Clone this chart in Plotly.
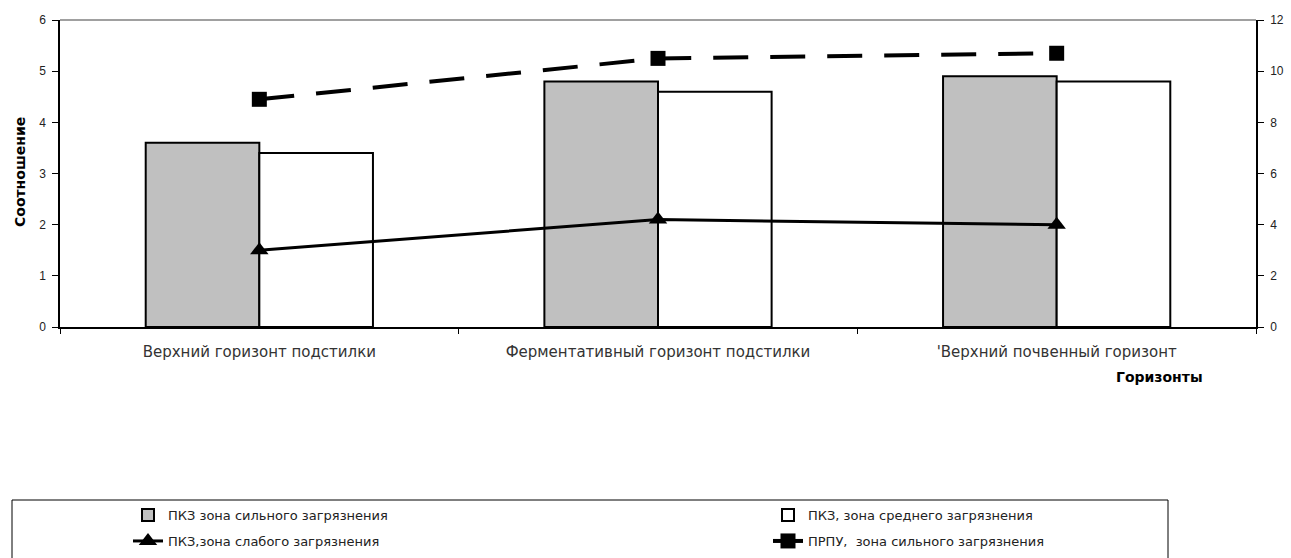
import plotly.graph_objects as go

# Горизонты (categories)
horizons = [
    "Верхний горизонт подстилки",
    "Ферментативный горизонт подстилки",
    "'Верхний почвенный горизонт",
]

# Series values
pkz_strong = [3.6, 4.8, 4.9]      # ПКЗ зона сильного загрязнения
pkz_medium = [3.4, 4.6, 4.8]      # ПКЗ, зона среднего загрязнения
pkz_weak = [1.5, 2.1, 2.0]        # ПКЗ,зона слабого загрязнения
prpu_strong = [8.9, 10.5, 10.7]   # ПРПУ,  зона сильного загрязнения (right axis)

left_ticks = [0, 1, 2, 3, 4, 5, 6]
right_ticks = [0, 2, 4, 6, 8, 10, 12]

W, H = 1291, 558
ML, MR, MT, MB = 60, 35, 20, 231
PW, PH = W - ML - MR, H - MT - MB

def px_x(px):
    return (px - ML) / PW

def px_y(py):
    return (H - MB - py) / PH

NUM_FONT = "Liberation Sans, Arial, sans-serif"
TXT_FONT = "DejaVu Sans, Verdana, sans-serif"
TXT = "#222222"

fig = go.Figure()

fig.add_trace(go.Bar(
    x=horizons, y=pkz_strong, name="ПКЗ зона сильного загрязнения",
    marker=dict(color="#c0c0c0", line=dict(color="black", width=2)),
    legend="legend",
))
fig.add_trace(go.Bar(
    x=horizons, y=pkz_medium, name="ПКЗ, зона среднего загрязнения",
    marker=dict(color="white", line=dict(color="black", width=2)),
    legend="legend2",
))
fig.add_trace(go.Scatter(
    x=horizons, y=pkz_weak, name="ПКЗ,зона слабого загрязнения",
    mode="lines+markers",
    line=dict(color="black", width=3),
    marker=dict(symbol="triangle-up", size=16, color="black"),
    legend="legend3",
))
fig.add_trace(go.Scatter(
    x=horizons, y=prpu_strong, name="ПРПУ,  зона сильного загрязнения",
    mode="lines+markers", yaxis="y2",
    line=dict(color="black", width=4, dash="35px,22px"),
    marker=dict(symbol="square", size=15, color="black"),
    legend="legend4",
))

num_font = dict(family=NUM_FONT, size=12, color=TXT)
legend_font = dict(family=TXT_FONT, size=13, color=TXT)

def legend_at(px, py):
    return dict(
        xref="container", yref="container",
        x=px / W, y=1 - py / H, xanchor="left", yanchor="middle",
        font=legend_font, bgcolor="rgba(0,0,0,0)",
    )

fig.update_layout(
    width=W, height=H,
    showlegend=True,
    margin=dict(l=ML, r=MR, t=MT, b=MB, autoexpand=False),
    paper_bgcolor="white", plot_bgcolor="white",
    barmode="group", bargap=0.43, bargroupgap=0,
    font=dict(family=TXT_FONT, size=12, color=TXT),
    xaxis=dict(
        type="category", tickson="boundaries",
        ticks="outside", ticklen=5, tickcolor="black",
        showline=True, linecolor="black", linewidth=1.5,
        showgrid=False, ticklabelstandoff=10, automargin=False,
        tickfont=dict(family=TXT_FONT, size=15, color="#333333"),
    ),
    yaxis=dict(
        range=[0, 6], tickvals=left_ticks,
        ticks="outside", ticklen=6, tickcolor="black",
        showline=True, linecolor="black", linewidth=1.5,
        showgrid=False, zeroline=False, tickfont=num_font,
        ticklabelstandoff=4, automargin=False,
    ),
    yaxis2=dict(
        range=[0, 12], tickvals=right_ticks, overlaying="y", side="right",
        ticks="outside", ticklen=6, tickcolor="black",
        showline=True, linecolor="black", linewidth=1.5,
        showgrid=False, zeroline=False, tickfont=num_font,
        ticklabelstandoff=4, automargin=False,
    ),
    legend=legend_at(128, 515),
    legend2=legend_at(768, 515),
    legend3=legend_at(128, 541),
    legend4=legend_at(768, 541),
    shapes=[
        # gray top border of the plot area
        dict(type="line", xref="paper", yref="paper", x0=0, x1=1, y0=1, y1=1,
             line=dict(color="#808080", width=1.5)),
        # legend frame
        dict(type="rect", xref="paper", yref="paper",
             x0=px_x(12), x1=px_x(1168), y0=px_y(500), y1=px_y(600),
             line=dict(color="black", width=1)),
    ],
    annotations=[
        dict(text="<b>Соотношение</b>", xref="paper", yref="paper",
             x=px_x(20), y=px_y(172), xanchor="center", yanchor="middle",
             textangle=-90, showarrow=False,
             font=dict(family=TXT_FONT, size=14, color="black")),
        dict(text="<b>Горизонты</b>", xref="paper", yref="paper",
             x=px_x(1159), y=px_y(377), xanchor="center", yanchor="middle",
             showarrow=False,
             font=dict(family=TXT_FONT, size=14, color="black")),
    ],
)

fig.write_html("out.html")
